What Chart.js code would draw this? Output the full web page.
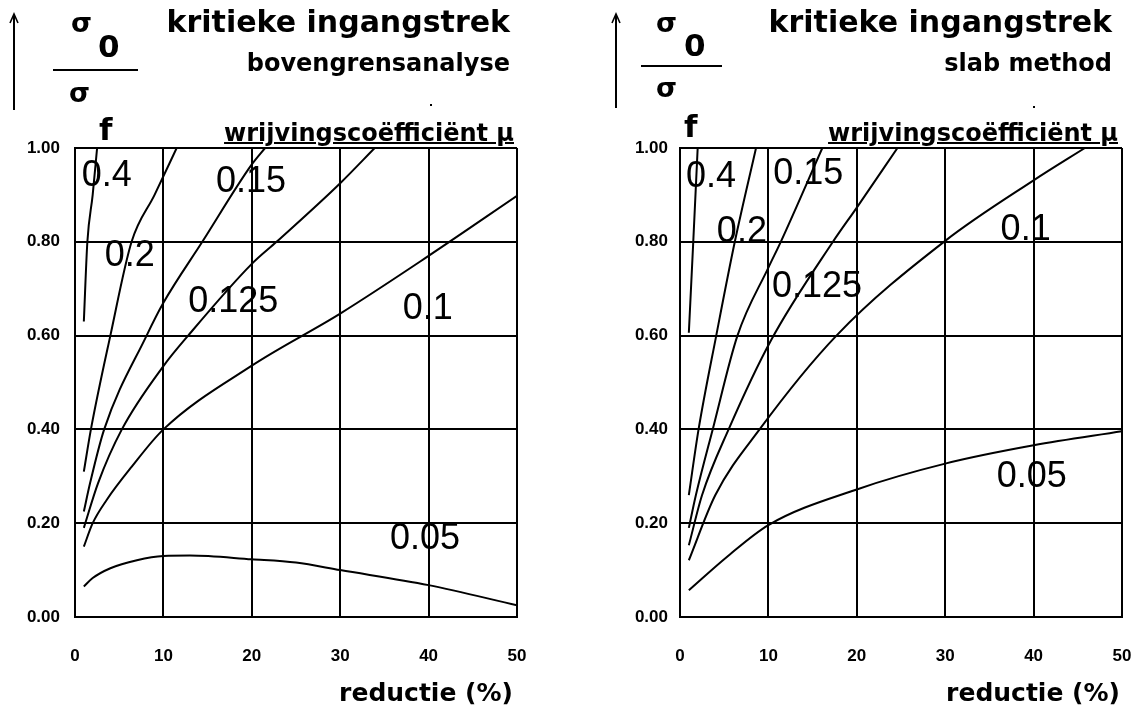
<!DOCTYPE html>
<html>
<head>
<meta charset="utf-8">
<script src="https://cdn.jsdelivr.net/npm/chart.js@4.4.1/dist/chart.umd.min.js"></script>
<style>
  html, body { margin: 0; padding: 0; background: #fff; }
  #page { position: relative; width: 1140px; height: 713px; overflow: hidden;
          font-family: "DejaVu Sans", sans-serif; font-weight: bold; color: #000; }
  canvas { position: absolute; top: 0; }
  .t { position: absolute; white-space: nowrap; line-height: 1; }
  .title { font-size: 30px; }
  .sub { font-size: 24px; }
  .mu { font-size: 24px; text-decoration: underline; text-decoration-thickness: 2px; }
  .sig { font-size: 27px; }
  .idx { font-size: 31px; }
  .bar { position: absolute; height: 2px; background: #000; }
  .dot { position: absolute; width: 2px; height: 2px; background: #000; }
  .xl { font-size: 25px; }
</style>
</head>
<body>
<div id="page">
  <canvas id="boven" width="570" height="713" style="left:0"></canvas>
  <canvas id="slab" width="570" height="713" style="left:570px"></canvas>

  <!-- links: bovengrensanalyse -->
  <svg style="position:absolute;left:8px;top:12px" width="14" height="100">
    <line x1="6" y1="4" x2="6" y2="98" stroke="#000" stroke-width="2"/>
    <path d="M2,11 L6,2 L10,11" fill="none" stroke="#000" stroke-width="1.6"/>
  </svg>
  <div class="t sig" style="left:71px;top:9px">σ</div>
  <div class="t idx" style="left:98px;top:31px">0</div>
  <div class="bar" style="left:53px;top:69px;width:85px"></div>
  <div class="t sig" style="left:69px;top:79px">σ</div>
  <div class="t idx" style="left:99px;top:114px">f</div>
  <div class="t title" style="right:630px;top:7px">kritieke ingangstrek</div>
  <div class="t sub" style="right:630px;top:51px">bovengrensanalyse</div>
  <div class="dot" style="left:430px;top:104px"></div>
  <div class="t mu" style="right:626px;top:121px">wrijvingscoëfficiënt μ</div>
  <div class="t xl" style="right:627px;top:680px">reductie (%)</div>

  <!-- rechts: slab method -->
  <svg style="position:absolute;left:610px;top:12px" width="14" height="100">
    <line x1="6" y1="4" x2="6" y2="96" stroke="#000" stroke-width="2"/>
    <path d="M2,11 L6,2 L10,11" fill="none" stroke="#000" stroke-width="1.6"/>
  </svg>
  <div class="t sig" style="left:656px;top:9px">σ</div>
  <div class="t idx" style="left:684px;top:30px">0</div>
  <div class="bar" style="left:641px;top:65px;width:81px"></div>
  <div class="t sig" style="left:656px;top:74px">σ</div>
  <div class="t idx" style="left:684px;top:111px">f</div>
  <div class="t title" style="right:28px;top:7px">kritieke ingangstrek</div>
  <div class="t sub" style="right:28px;top:51px">slab method</div>
  <div class="dot" style="left:1033px;top:106px"></div>
  <div class="t mu" style="right:22px;top:121px">wrijvingscoëfficiënt μ</div>
  <div class="t xl" style="right:20px;top:680px">reductie (%)</div>
</div>

<script>
// wrijvingscoëfficiënt per curve (same order in both charts)
const muLabels = ["0.4", "0.2", "0.15", "0.125", "0.1", "0.05"];

// bovengrensanalyse: reductie (%) -> sigma0/sigmaf
const boven_04_r = [1, 1.4, 2.0, 2.5];
const boven_04_s = [0.63, 0.80, 0.90, 1.00];
const boven_02_r = [1, 1.8, 4.0, 6.4, 9.0, 11.5];
const boven_02_s = [0.31, 0.40, 0.60, 0.80, 0.90, 1.00];
const boven_015_r = [1, 1.7, 3.3, 8.1, 10, 14.4, 20, 21.5];
const boven_015_s = [0.225, 0.285, 0.40, 0.60, 0.67, 0.80, 0.965, 1.00];
const boven_0125_r = [1, 2.6, 5.3, 10, 12.8, 20, 22.8, 30, 33.9];
const boven_0125_s = [0.19, 0.285, 0.40, 0.535, 0.60, 0.753, 0.80, 0.925, 1.00];
const boven_01_r = [1, 2, 3.6, 6.4, 10, 20, 30, 40, 50];
const boven_01_s = [0.15, 0.20, 0.25, 0.32, 0.40, 0.536, 0.647, 0.77, 0.898];
const boven_005_r = [1, 2, 4, 7, 10, 13, 20, 25, 30, 40, 50];
const boven_005_s = [0.065, 0.083, 0.104, 0.121, 0.130, 0.131, 0.123, 0.116, 0.10, 0.068, 0.025];

// slab method
const slab_04_r = [1, 1.5, 2.0];
const slab_04_s = [0.606, 0.80, 1.00];
const slab_02_r = [1, 2.1, 4.1, 6.2, 8.6];
const slab_02_s = [0.26, 0.40, 0.60, 0.80, 1.00];
const slab_015_r = [1, 1.8, 3.7, 6.5, 10, 11.4, 16.1];
const slab_015_s = [0.19, 0.26, 0.40, 0.60, 0.745, 0.80, 1.00];
const slab_0125_r = [1, 2.5, 5.5, 10.3, 17.3, 20, 24.6];
const slab_0125_s = [0.153, 0.26, 0.40, 0.59, 0.80, 0.873, 1.00];
const slab_01_r = [1, 4, 9, 17.7, 30, 40, 45.8];
const slab_01_s = [0.121, 0.26, 0.40, 0.60, 0.802, 0.931, 1.00];
const slab_005_r = [1, 5.3, 10, 20, 30, 40, 50];
const slab_005_s = [0.057, 0.128, 0.196, 0.272, 0.327, 0.366, 0.396];

// where the mu labels sit (data coordinates)
const boven_label_r = [3.6, 6.2, 19.9, 17.9, 39.9, 39.6];
const boven_label_s = [0.947, 0.777, 0.934, 0.679, 0.664, 0.172];
const slab_label_r = [3.5, 7.0, 14.5, 15.5, 39.1, 39.8];
const slab_label_s = [0.945, 0.828, 0.951, 0.709, 0.832, 0.304];

const xTicks = [0, 10, 20, 30, 40, 50];
const yTicks = [0, 0.2, 0.4, 0.6, 0.8, 1.0];

Chart.defaults.font.family = "'DejaVu Sans', sans-serif";
Chart.defaults.color = "#000";

const tickFont = { family: "'Liberation Sans', Arial, sans-serif", size: 17, weight: "bold" };

const curveLabels = {
  id: "curveLabels",
  afterDatasetsDraw(chart, args, opts) {
    const ctx = chart.ctx;
    const xs = chart.scales.x;
    const ys = chart.scales.y;
    ctx.save();
    ctx.font = "36px 'Liberation Sans', Arial, sans-serif";
    ctx.fillStyle = "#000";
    ctx.textAlign = "center";
    ctx.textBaseline = "alphabetic";
    opts.r.forEach(function (r, i) {
      ctx.fillText(muLabels[i], xs.getPixelForValue(r), ys.getPixelForValue(opts.s[i]) + 13);
    });
    ctx.restore();
  },
};

function toPoints(rs, ss) {
  return rs.map(function (r, i) {
    return { x: r, y: ss[i] };
  });
}

function makeChart(id, curves, labelR, labelS, yWidth, padRight, yPad) {
  const datasets = curves.map(function (c, i) {
    return {
      label: muLabels[i],
      data: toPoints(c[0], c[1]),
      borderColor: "#000",
      borderWidth: 2,
      pointRadius: 0,
      fill: false,
      cubicInterpolationMode: "monotone",
    };
  });

  new Chart(document.getElementById(id), {
    type: "line",
    data: { datasets: datasets },
    options: {
      responsive: false,
      animation: false,
      events: [],
      layout: { padding: { left: 0, top: 148, right: padRight, bottom: 36 } },
      plugins: {
        legend: { display: false },
        tooltip: { enabled: false },
        curveLabels: { r: labelR, s: labelS },
      },
      scales: {
        x: {
          type: "linear",
          min: 0,
          max: 50,
          afterBuildTicks: function (scale) {
            scale.ticks = xTicks.map(function (v) { return { value: v }; });
          },
          afterFit: function (scale) { scale.height = 60; },
          ticks: {
            padding: 0,
            font: tickFont,
            maxRotation: 0,
            callback: function (v) { return String(v); },
          },
          // invisible tick marks push the labels down without eating side padding
          grid: { color: "#000", lineWidth: 2, drawTicks: true, tickLength: 29, tickColor: "rgba(0,0,0,0)" },
          border: { color: "#000", width: 2 },
        },
        y: {
          type: "linear",
          min: 0,
          max: 1,
          afterBuildTicks: function (scale) {
            scale.ticks = yTicks.map(function (v) { return { value: v }; });
          },
          afterFit: function (scale) { scale.width = yWidth; },
          ticks: {
            padding: yPad,
            font: tickFont,
            callback: function (v) { return v.toFixed(2); },
          },
          grid: { color: "#000", lineWidth: 2, drawTicks: false },
          border: { color: "#000", width: 2 },
        },
      },
    },
    plugins: [curveLabels],
  });
}

makeChart("boven", [
  [boven_04_r, boven_04_s],
  [boven_02_r, boven_02_s],
  [boven_015_r, boven_015_s],
  [boven_0125_r, boven_0125_s],
  [boven_01_r, boven_01_s],
  [boven_005_r, boven_005_s],
], boven_label_r, boven_label_s, 75, 53, 15);

makeChart("slab", [
  [slab_04_r, slab_04_s],
  [slab_02_r, slab_02_s],
  [slab_015_r, slab_015_s],
  [slab_0125_r, slab_0125_s],
  [slab_01_r, slab_01_s],
  [slab_005_r, slab_005_s],
], slab_label_r, slab_label_s, 110, 18, 12);
</script>
</body>
</html>
